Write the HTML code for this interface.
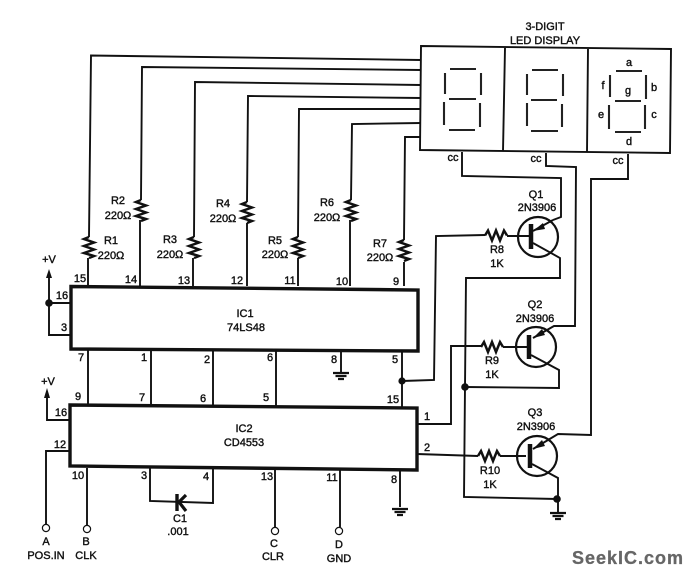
<!DOCTYPE html>
<html><head><meta charset="utf-8">
<style>
html,body{margin:0;padding:0;background:#fff;}
svg{display:block;}
text{font-family:"Liberation Sans",sans-serif;font-size:11px;fill:#111;text-anchor:middle;dominant-baseline:central;stroke:#111;stroke-width:.4;}
.w{fill:none;stroke:#111;stroke-width:1.9;stroke-linejoin:miter;}
.t{fill:none;stroke:#111;stroke-width:3.4;}
.s{fill:none;stroke:#222;stroke-width:2.1;}
.r{fill:none;stroke:#111;stroke-width:2.5;}
</style></head>
<body>
<svg width="692" height="576" viewBox="0 0 692 576" xmlns="http://www.w3.org/2000/svg">
<defs>
<polyline id="rv" class="r" points="0,0 -5,2 5,5.5 -5,9 5,12.5 -5,16 5,19 0,21"/>
<polyline id="rh" class="r" points="0,0 3,-5 7,5 11,-5 15,5 19,-5 22,0"/>
<g id="gnd">
<path d="M-8,0H8M-5.5,3H5.5M-3,6H3" stroke="#111" stroke-width="2.2" fill="none"/>
</g>
</defs>

<!-- Display -->
<polygon class="w" points="421,46 671,49 670,153 420,150"/>
<path class="w" d="M505,48L503,151M588,49L587,152"/>

<!-- Segments -->
<path class="s" d="M450,69H476M445,73V94M481,73V95M449,99H476M444,102V125M480,103V127M449,130H475"/>
<path class="s" d="M532,70H558M527,74V95M563,74V96M531,100H557M527,103V126M562,104V127M531,131H558"/>
<path class="s" d="M616,71H642M610,75V97M646,75V99M615,101H641M609,105V129M645,105V129M615,132H641"/>

<!-- Display feed wires -->
<polyline class="w" points="88,286 88,258"/><polyline class="w" points="89,237 91,55.5 421,60"/>
<polyline class="w" points="140,286 140,220"/><polyline class="w" points="141,200 142,67 421,70"/>
<polyline class="w" points="193,286 193,258"/><polyline class="w" points="194,237 195,82 421,85"/>
<polyline class="w" points="247,286 247,223"/><polyline class="w" points="247,202 248,96 421,98"/>
<polyline class="w" points="298,286 298,258"/><polyline class="w" points="298,237 299,109 421,109"/>
<polyline class="w" points="350,286 350,220"/><polyline class="w" points="351,200 352,124 421,123"/>
<polyline class="w" points="404,286 404,262"/><polyline class="w" points="404,240 405,137 421,137"/>

<use href="#rv" x="89" y="237"/>
<use href="#rv" x="141" y="200"/>
<use href="#rv" x="194" y="237"/>
<use href="#rv" x="247" y="202"/>
<use href="#rv" x="298" y="237"/>
<use href="#rv" x="351" y="200"/>
<use href="#rv" x="404" y="240"/>

<!-- ICs -->
<polygon class="t" points="71,286.5 418,290 418,351 71,349"/>
<polygon class="t" points="70,405 417,408 417,470 70,466"/>

<!-- Between ICs -->
<path class="w" d="M88,349V405M151,350V405M213,350V406M276,350V406"/>
<path class="w" d="M341,351V372"/>
<use href="#gnd" x="341" y="373"/>
<path class="w" d="M402,351V407"/>
<circle cx="402" cy="381" r="3.6" fill="#111"/>

<!-- +V IC1 -->
<polyline class="w" points="49,276 49,335 71,335"/>
<path class="w" d="M49,303H71"/>
<polygon points="49,269 46,278 52,278" fill="#111"/>
<circle cx="49" cy="303" r="3.8" fill="#111"/>
<!-- +V IC2 -->
<polyline class="w" points="47,396 47,420 70,420"/>
<polygon points="47,388 44,398 50,398" fill="#111"/>

<!-- IC2 left and bottom -->
<polyline class="w" points="70,451 46,451 46,525"/>
<circle cx="46" cy="528" r="3.6" fill="#fff" stroke="#111" stroke-width="1.2"/>
<path class="w" d="M87,468V525"/>
<circle cx="87" cy="529" r="3.6" fill="#fff" stroke="#111" stroke-width="1.2"/>
<polyline class="w" points="150,468 150,501 213,503 213,469"/>
<path d="M177,494V511" stroke="#111" stroke-width="3.4" fill="none"/>
<path d="M186,495L179,502L186,511" stroke="#111" stroke-width="3.2" fill="none"/>
<path class="w" d="M275,470V527"/>
<circle cx="275" cy="531" r="3.6" fill="#fff" stroke="#111" stroke-width="1.2"/>
<path class="w" d="M340,470V527"/>
<circle cx="339" cy="531" r="3.6" fill="#fff" stroke="#111" stroke-width="1.2"/>
<path class="w" d="M400,470V507"/>
<use href="#gnd" x="400" y="509"/>

<!-- cc1 / Q1 -->
<polyline class="w" points="462,152 462,176 561,178 561,217 553,220"/>
<polyline class="w" points="402,381 434,380 436,236 485,235"/>
<use href="#rh" x="485" y="235.500"/>
<path class="w" d="M507,236H531"/>
<circle cx="538" cy="237" r="20" fill="none" stroke="#111" stroke-width="2.2"/>
<path d="M531,224V249" stroke="#111" stroke-width="4.500"/>
<polyline class="w" points="553,220 533,231"/>
<polygon points="533,231 543,223 545,229" fill="#111"/>
<polyline class="w" points="533,243 560,258 560,278 466,278 465,387 464,497 557,499"/>

<!-- cc2 / Q2 -->
<polyline class="w" points="546,153 546,166 576,167 575,326 554,326 533,338"/>
<polygon points="533,338 542,329 545,335" fill="#111"/>
<polyline class="w" points="417,424 451,424 451,346 481,346"/>
<use href="#rh" x="481" y="347"/>
<path class="w" d="M503,347H527"/>
<circle cx="536" cy="347" r="20" fill="none" stroke="#111" stroke-width="2.2"/>
<path d="M529,335V359" stroke="#111" stroke-width="4.500"/>
<polyline class="w" points="531,355 559,370 559,388 465,387"/>
<circle cx="465" cy="387" r="3.800" fill="#111"/>

<!-- cc3 / Q3 -->
<polyline class="w" points="628,154 628,179 591,179 591,435 558,434 533,449"/>
<polygon points="533,449 542,440 545,446" fill="#111"/>
<polyline class="w" points="417,454 478,456"/>
<use href="#rh" x="478" y="456"/>
<path class="w" d="M500,456H526"/>
<circle cx="537" cy="456" r="20" fill="none" stroke="#111" stroke-width="2.2"/>
<path d="M530,444V468" stroke="#111" stroke-width="4.500"/>
<polyline class="w" points="532,464 558,478 558,512"/>
<circle cx="557" cy="499" r="3.800" fill="#111"/>
<use href="#gnd" x="558" y="513"/>

<!-- Labels -->
<text x="545" y="27">3-DIGIT</text>
<text x="545" y="41">LED DISPLAY</text>
<text x="629" y="63">a</text><text x="654" y="88">b</text><text x="603" y="86">f</text>
<text x="628" y="91">g</text><text x="601" y="115">e</text><text x="654" y="115">c</text><text x="629" y="142">d</text>
<text x="453" y="158">cc</text><text x="536" y="159">cc</text><text x="618" y="161">cc</text>

<text x="536" y="195">Q1</text><text x="537" y="208">2N3906</text>
<text x="497" y="250">R8</text><text x="497" y="264">1K</text>
<text x="535" y="305">Q2</text><text x="535" y="319">2N3906</text>
<text x="492" y="361">R9</text><text x="492" y="375">1K</text>
<text x="535" y="413">Q3</text><text x="536" y="427">2N3906</text>
<text x="490" y="471">R10</text><text x="490" y="485">1K</text>

<text x="111" y="241">R1</text><text x="111" y="256">220Ω</text>
<text x="118" y="201">R2</text><text x="118" y="216">220Ω</text>
<text x="170" y="240">R3</text><text x="170" y="255">220Ω</text>
<text x="223" y="204">R4</text><text x="223" y="219">220Ω</text>
<text x="275" y="241">R5</text><text x="275" y="255">220Ω</text>
<text x="327" y="203">R6</text><text x="327" y="218">220Ω</text>
<text x="380" y="244">R7</text><text x="380" y="258">220Ω</text>

<text x="80" y="279">15</text><text x="131" y="280">14</text><text x="184" y="281">13</text><text x="237" y="281">12</text><text x="290" y="281">11</text><text x="342" y="282">10</text><text x="396" y="282">9</text>
<text x="62" y="296">16</text><text x="64" y="328">3</text>
<text x="81" y="358">7</text><text x="144" y="358">1</text><text x="207" y="360">2</text><text x="270" y="358">6</text><text x="334" y="360">8</text><text x="395" y="360">5</text>
<text x="78" y="397">9</text><text x="142" y="398">7</text><text x="203" y="399">6</text><text x="266" y="398">5</text><text x="393" y="400">15</text>
<text x="61" y="413">16</text><text x="60" y="445">12</text>
<text x="78" y="476">10</text><text x="144" y="476">3</text><text x="206" y="477">4</text><text x="267" y="477">13</text><text x="332" y="478">11</text><text x="394" y="480">8</text>
<text x="427" y="417">1</text><text x="427" y="448">2</text>

<text x="245" y="314">IC1</text><text x="246" y="328">74LS48</text>
<text x="244" y="429">IC2</text><text x="244" y="443">CD4553</text>
<text x="180" y="519">C1</text><text x="178" y="532">.001</text>
<text x="46" y="542">A</text><text x="46" y="556">POS.IN</text>
<text x="86" y="542">B</text><text x="86" y="556">CLK</text>
<text x="274" y="544">C</text><text x="273" y="557">CLR</text>
<text x="339" y="545">D</text><text x="339" y="559">GND</text>
<text x="49" y="260">+V</text><text x="48" y="382">+V</text>

<text x="628" y="558" style="font-size:18px;font-weight:bold;letter-spacing:1px;fill:#666;stroke:#666;stroke-width:.3;">SeekIC.com</text>
</svg>
</body></html>
